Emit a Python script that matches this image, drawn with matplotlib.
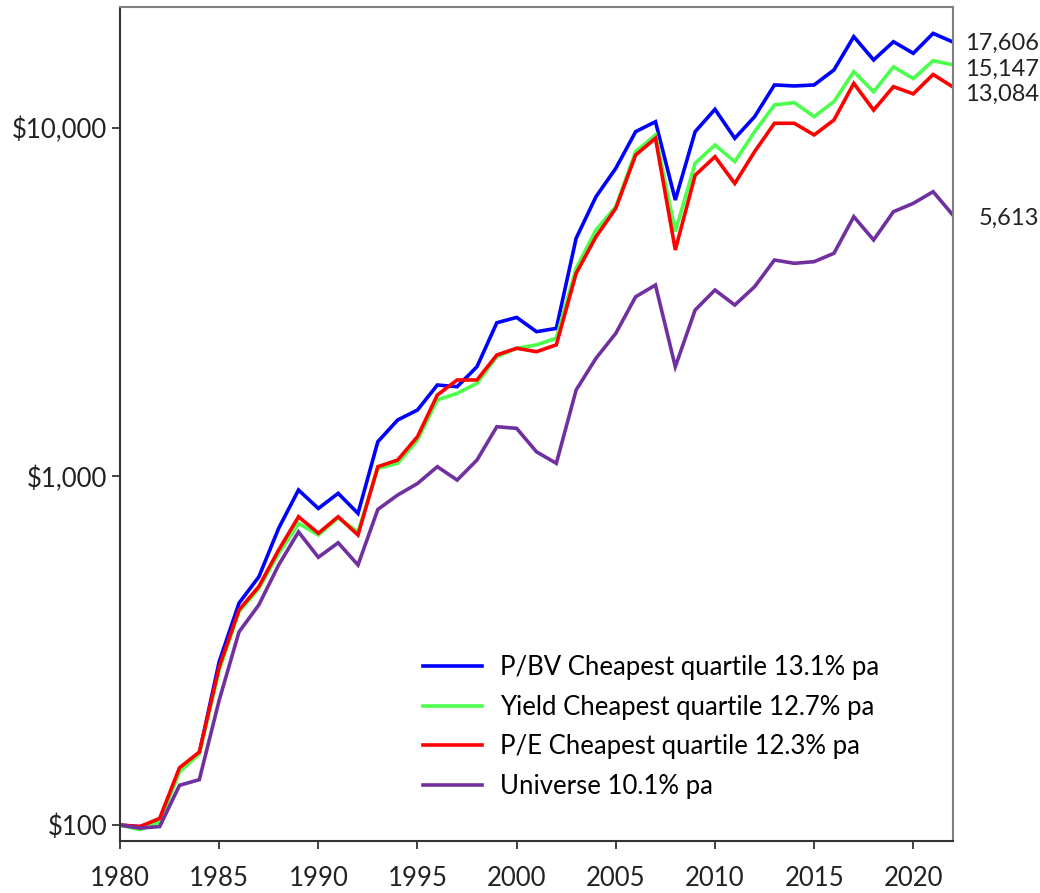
import matplotlib
matplotlib.use("Agg")
import matplotlib.pyplot as plt
from matplotlib.ticker import FixedLocator, NullLocator

plt.rcParams['font.family'] = ['Lato', 'DejaVu Sans']

years = list(range(1980, 2023))

pbv = [100, 99, 103, 145, 161, 294, 433, 515, 710, 914, 809, 894, 783, 1257, 1451,
       1550, 1828, 1808, 2063, 2758, 2857, 2600, 2657, 4818, 6340, 7647, 9740, 10400,
       6201, 9740, 11290, 9322, 10755, 13260, 13170, 13260, 14640, 18240, 15640, 17640,
       16340, 18640, 17606]
yld = [100, 97, 102, 142, 160, 278, 409, 477, 601, 733, 679, 760, 693, 1055, 1090,
       1271, 1656, 1730, 1849, 2204, 2330, 2383, 2491, 3951, 5088, 5936, 8540, 9530,
       5032, 7904, 8920, 7990, 9740, 11620, 11800, 10755, 11880, 14475, 12680, 14940,
       13830, 15560, 15147]
pe = [100, 99, 104.5, 146, 162, 284, 414, 483, 615, 766, 687, 766, 679, 1066, 1114,
      1300, 1711, 1890, 1890, 2229, 2330, 2278, 2383, 3822, 4866, 5872, 8350, 9322,
      4460, 7306, 8256, 6918, 8540, 10294, 10294, 9530, 10520, 13400, 11230, 13110,
      12500, 14210, 13084]
univ = [100, 98, 99, 130, 135, 228, 358, 428, 557, 693, 586, 645, 557, 804, 884,
        954, 1066, 976, 1114, 1388, 1373, 1176, 1090, 1769, 2181, 2572, 3274, 3538,
        2063, 2999, 3423, 3100, 3500, 4174, 4083, 4128, 4363, 5556, 4764, 5741,
        6067, 6553, 5613]

labels = ["P/BV Cheapest quartile 13.1% pa", "Yield Cheapest quartile 12.7% pa",
          "P/E Cheapest quartile 12.3% pa", "Universe 10.1% pa"]
end_labels = ["17,606", "15,147", "13,084", "5,613"]
colors = ["#0000FF", "#4CFF4C", "#FF0000", "#7030A0"]
series = [pbv, yld, pe, univ]

yticks = [100, 1000, 10000]
ytick_labels = ["$100", "$1,000", "$10,000"]
xticks = [1980, 1985, 1990, 1995, 2000, 2005, 2010, 2015, 2020]

fig = plt.figure(figsize=(10.4, 8.93), dpi=100)
ax = fig.add_axes([0.1154, 0.0582, 0.8009, 0.934])

for s, c, lab in zip(series, colors, labels):
    ax.plot(years, s, color=c, lw=2.6, label=lab, solid_joinstyle='miter')

ax.set_yscale('log')
ax.set_xlim(1980, 2022)
ax.set_ylim(90, 22190)
ax.yaxis.set_major_locator(FixedLocator(yticks))
ax.yaxis.set_minor_locator(NullLocator())
ax.set_yticklabels(ytick_labels)
ax.set_xticks(xticks)
ax.set_xticklabels([str(x) for x in xticks])
ax.tick_params(axis='both', labelsize=18.5, colors='#222222', direction='out',
               length=6, width=1.2)
ax.tick_params(axis='x', pad=12)
ax.tick_params(axis='y', pad=3)

for side in ['left', 'bottom']:
    ax.spines[side].set_color('#333333')
    ax.spines[side].set_linewidth(1.5)
for side in ['top', 'right']:
    ax.spines[side].set_color('#808080')
    ax.spines[side].set_linewidth(1.5)

offsets = [-1, -3, -5, -2]
for s, txt, off in zip(series, end_labels, offsets):
    ax.annotate(txt, xy=(years[-1], s[-1]), xytext=(62, off), textcoords='offset points',
                ha='right', va='center', fontsize=17, color='#222222',
                annotation_clip=False)

leg = ax.legend(loc='lower left', bbox_to_anchor=(0.364, 0.05), frameon=False,
                fontsize=18.5, handlelength=2.3, handletextpad=0.7, labelspacing=0.58,
                borderpad=0, borderaxespad=0)

fig.savefig("out.png", dpi=100)
